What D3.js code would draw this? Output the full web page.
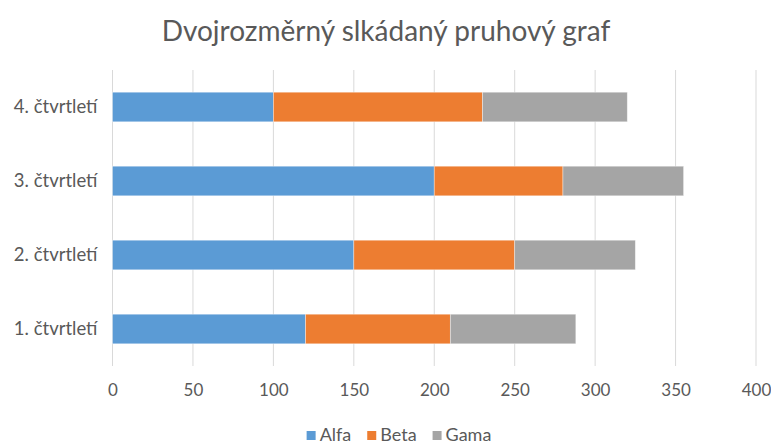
<!DOCTYPE html>
<html>
<head>
<meta charset="utf-8">
<script src="https://cdn.jsdelivr.net/npm/d3@7"></script>
<style>
	body { margin: 0; background: #fff; }
	text { font-family: Lato, "Open Sans", sans-serif; fill: #595959; }
</style>
</head>
<body>
<svg id="chart" width="771" height="447"></svg>
<script>
// Chart data.
var categories = ['1. čtvrtletí', '2. čtvrtletí', '3. čtvrtletí', '4. čtvrtletí'];
var seriesNames = ['Alfa', 'Beta', 'Gama'];
var alfa = [120, 150, 200, 100];
var beta = [90, 100, 80, 130];
var gama = [78, 75, 75, 90];
var xTicks = [0, 50, 100, 150, 200, 250, 300, 350, 400];
var colors = ['#5b9bd5', '#ed7d31', '#a5a5a5'];

var svg = d3.select('#chart');
var plot = {left: 112.5, right: 756, top: 70, bottom: 366};

// Build the rows for d3.stack from the separate arrays.
var rows = categories.map(function(name, i) {
	return {category: name, Alfa: alfa[i], Beta: beta[i], Gama: gama[i]};
});
var stacked = d3.stack().keys(seriesNames)(rows);

var x = d3.scaleLinear().domain([0, 400]).range([plot.left, plot.right]);
var y = d3.scaleBand()
	.domain(categories.slice().reverse())
	.range([plot.top, plot.bottom])
	.paddingInner(0.6)
	.paddingOuter(0.3);
var color = d3.scaleOrdinal().domain(seriesNames).range(colors);

// Title.
svg.append('text')
	.attr('x', 386)
	.attr('y', 41)
	.attr('text-anchor', 'middle')
	.style('font-size', '28px')
	.text('Dvojrozměrný slkádaný pruhový graf');

// Vertical gridlines.
svg.append('g')
	.selectAll('line')
	.data(xTicks)
	.join('line')
	.attr('x1', function(d) { return x(d); })
	.attr('x2', function(d) { return x(d); })
	.attr('y1', plot.top)
	.attr('y2', plot.bottom)
	.attr('stroke', '#d9d9d9')
	.attr('stroke-width', 1);

// Stacked bars.
svg.append('g')
	.selectAll('g')
	.data(stacked)
	.join('g')
	.attr('fill', function(s) { return color(s.key); })
	.selectAll('rect')
	.data(function(s) { return s; })
	.join('rect')
	.attr('x', function(d) { return x(d[0]); })
	.attr('width', function(d) { return x(d[1]) - x(d[0]); })
	.attr('y', function(d) { return y(d.data.category); })
	.attr('height', y.bandwidth())
	.attr('stroke', '#fff')
	.attr('stroke-opacity', 0.5)
	.attr('stroke-width', 0.75);

// Value axis at the bottom.
var xAxis = svg.append('g')
	.attr('transform', 'translate(0,' + plot.bottom + ')')
	.call(d3.axisBottom(x).tickValues(xTicks).tickSize(0).tickPadding(18));
xAxis.select('.domain').remove();
xAxis.selectAll('text')
	.style('font-size', '17px')
	.style('font-family', 'Lato, sans-serif')
	.attr('fill', '#595959');

// Category axis on the left.
var yAxis = svg.append('g')
	.attr('transform', 'translate(' + plot.left + ',0)')
	.call(d3.axisLeft(y).tickSize(0).tickPadding(15));
yAxis.select('.domain').remove();
yAxis.selectAll('text')
	.style('font-size', '18.5px')
	.style('font-family', 'Lato, sans-serif')
	.attr('fill', '#595959');

// Legend, centred under the chart.
var legend = svg.append('g');
var items = legend.selectAll('g')
	.data(seriesNames)
	.join('g');
items.append('rect')
	.attr('width', 9)
	.attr('height', 9)
	.attr('y', 431)
	.attr('fill', function(d) { return color(d); });
items.append('text')
	.attr('x', 13)
	.attr('y', 441)
	.style('font-size', '18px')
	.text(function(d) { return d; });

var offset = 0;
items.each(function() {
	var w = d3.select(this).select('text').node().getComputedTextLength();
	d3.select(this).attr('transform', 'translate(' + offset + ',0)');
	offset += 13 + w + 16;
});
var legendWidth = offset - 16;
legend.attr('transform', 'translate(' + (399 - legendWidth / 2) + ',0)');
</script>
</body>
</html>
